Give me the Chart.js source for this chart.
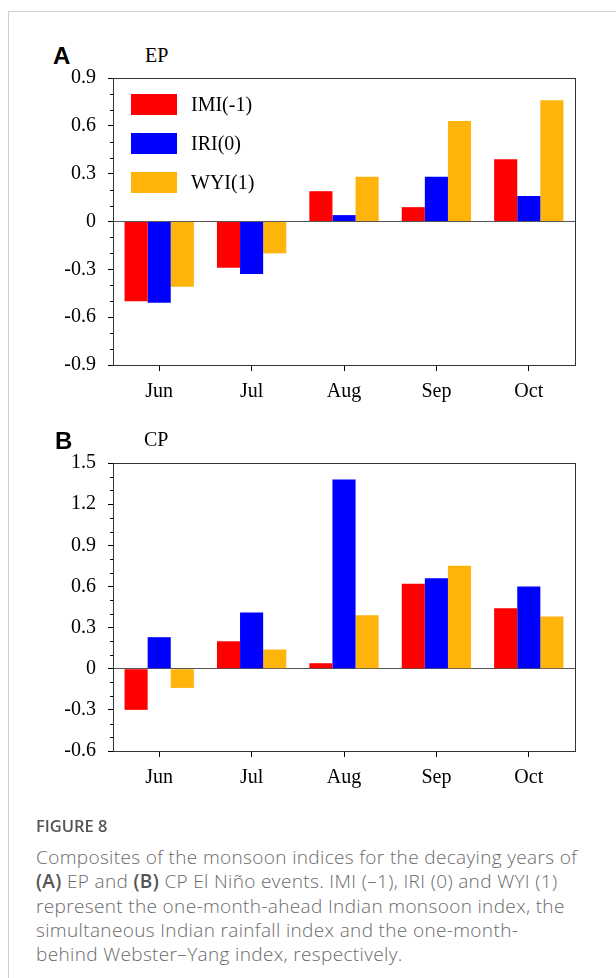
<!DOCTYPE html>
<html>
<head>
<meta charset="utf-8">
<script src="https://cdn.jsdelivr.net/npm/chart.js@4.4.3/dist/chart.umd.min.js"></script>
<style>
  html, body { margin: 0; padding: 0; background: #fff; }
  body { width: 616px; height: 978px; position: relative; overflow: hidden; }
  .frame-top { position: absolute; left: 8px; top: 11px; width: 608px; height: 1px; background: #cfcfcf; }
  .frame-left { position: absolute; left: 8px; top: 11px; width: 1px; height: 967px; background: #cfcfcf; }
  canvas { position: absolute; left: 0; }
  .panel { position: absolute; font: bold 24px "Liberation Sans", Arial, sans-serif; line-height: 24px; color: #000; }
  .sub { position: absolute; font: 20px "Liberation Serif", "Times New Roman", serif; line-height: 20px; color: #000; }
  .fig { position: absolute; left: 36px; top: 814px; font: 600 16.5px "Open Sans", sans-serif; line-height: 24px; color: #555; }
  .cap { position: absolute; left: 36px; top: 845px; width: 578px; font: 300 19px "Open Sans", sans-serif; line-height: 24.3px; color: #6a6a6a; white-space: nowrap; letter-spacing: 0.35px; }
  .cap b { color: #555; font-weight: 600; }
</style>
</head>
<body>
<div class="frame-top"></div>
<div class="frame-left"></div>

<div class="panel" style="left:53px; top:44px;">A</div>
<div class="sub" style="left:145px; top:45px;">EP</div>
<canvas id="chartA" width="616" height="400" style="top:30px;"></canvas>

<div class="panel" style="left:55px; top:429px;">B</div>
<div class="sub" style="left:144px; top:429px;">CP</div>
<canvas id="chartB" width="616" height="401" style="top:415px;"></canvas>

<div class="fig">FIGURE 8</div>
<div class="cap">Composites of the monsoon indices for the decaying years of<br><b>(A)</b> EP and <b>(B)</b> CP El Niño events. IMI (–1), IRI (0) and WYI (1)<br>represent the one-month-ahead Indian monsoon index, the<br>simultaneous Indian rainfall index and the one-month-<br>behind Webster–Yang index, respectively.</div>

<script>
const months = ['Jun', 'Jul', 'Aug', 'Sep', 'Oct'];
const seriesNames = ['IMI(-1)', 'IRI(0)', 'WYI(1)'];
const seriesColors = ['#ff0000', '#0000ff', '#ffb40b'];

// EP El Nino decaying years
const epIMI = [-0.50, -0.29, 0.19, 0.09, 0.39];
const epIRI = [-0.51, -0.33, 0.04, 0.28, 0.16];
const epWYI = [-0.41, -0.20, 0.28, 0.63, 0.76];

// CP El Nino decaying years
const cpIMI = [-0.30, 0.20, 0.04, 0.62, 0.44];
const cpIRI = [0.23, 0.41, 1.38, 0.66, 0.60];
const cpWYI = [-0.14, 0.14, 0.39, 0.75, 0.38];

const epTicks = [-0.9, -0.6, -0.3, 0, 0.3, 0.6, 0.9];
const cpTicks = [-0.6, -0.3, 0, 0.3, 0.6, 0.9, 1.2, 1.5];

const serif = '"Liberation Serif", "Times New Roman", serif';

// closed box around the plot + small minor ticks every 0.1
const framePlugin = {
  id: 'frame',
  afterDraw(chart) {
    const { ctx, chartArea: a } = chart;
    const y = chart.scales.y;
    ctx.save();
    ctx.strokeStyle = '#333';
    ctx.lineWidth = 1;
    ctx.strokeRect(Math.round(a.left) + 0.5, Math.round(a.top) + 0.5,
      Math.round(a.right - a.left), Math.round(a.bottom - a.top));
    ctx.strokeStyle = '#000';
    ctx.beginPath();
    const lo = Math.round(y.min * 10), hi = Math.round(y.max * 10);
    for (let i = lo; i <= hi; i++) {
      if (i % 3 === 0) continue;
      const py = Math.round(y.getPixelForValue(i / 10)) + 0.5;
      ctx.moveTo(a.left - 3, py);
      ctx.lineTo(a.left, py);
    }
    ctx.stroke();
    ctx.restore();
  }
};

// legend boxes drawn inside the plot, top-left
const boxLegend = {
  id: 'boxLegend',
  afterDraw(chart, args, opts) {
    if (!opts.display) return;
    const { ctx, chartArea: a } = chart;
    ctx.save();
    ctx.font = '20px ' + serif;
    ctx.textBaseline = 'middle';
    ctx.fillStyle = '#000';
    chart.data.datasets.forEach((ds, i) => {
      const top = a.top + 16 + i * 39;
      ctx.fillStyle = ds.backgroundColor;
      ctx.fillRect(a.left + 18, top, 46, 21);
      ctx.fillStyle = '#000';
      ctx.fillText(ds.label, a.left + 78, top + 11.5);
    });
    ctx.restore();
  }
};

function makeChart(id, values, ticks, legend) {
  return new Chart(document.getElementById(id), {
    type: 'bar',
    data: {
      labels: months,
      datasets: values.map((v, i) => ({
        label: seriesNames[i],
        data: v,
        backgroundColor: seriesColors[i],
        borderWidth: 0,
        categoryPercentage: 0.75,
        barPercentage: 1.0
      }))
    },
    options: {
      responsive: false,
      animation: false,
      devicePixelRatio: 1,
      layout: { padding: { left: 0, right: 41, top: 48, bottom: 25 } },
      plugins: {
        legend: { display: false },
        tooltip: { enabled: false },
        boxLegend: { display: legend }
      },
      scales: {
        x: {
          grid: { offset: false, drawOnChartArea: false, tickLength: 6, tickColor: '#000' },
          border: { display: true, color: '#333' },
          ticks: { font: { family: serif, size: 20 }, color: '#000', padding: 9 },
          afterFit: s => { s.height = 40; }
        },
        y: {
          min: ticks[0],
          max: ticks[ticks.length - 1],
          afterBuildTicks: s => { s.ticks = ticks.map(v => ({ value: v })); },
          grid: {
            color: c => (c.tick && c.tick.value === 0) ? '#555' : 'rgba(0,0,0,0)',
            tickColor: '#000',
            tickLength: 5
          },
          border: { display: true, color: '#333' },
          ticks: {
            font: { family: serif, size: 20 },
            color: '#000',
            padding: 12,
            callback: v => v === 0 ? '0' : v.toFixed(1)
          },
          afterFit: s => { s.width = 113; }
        }
      }
    },
    plugins: [framePlugin, boxLegend]
  });
}

makeChart('chartA', [epIMI, epIRI, epWYI], epTicks, true);
makeChart('chartB', [cpIMI, cpIRI, cpWYI], cpTicks, false);
</script>
</body>
</html>
